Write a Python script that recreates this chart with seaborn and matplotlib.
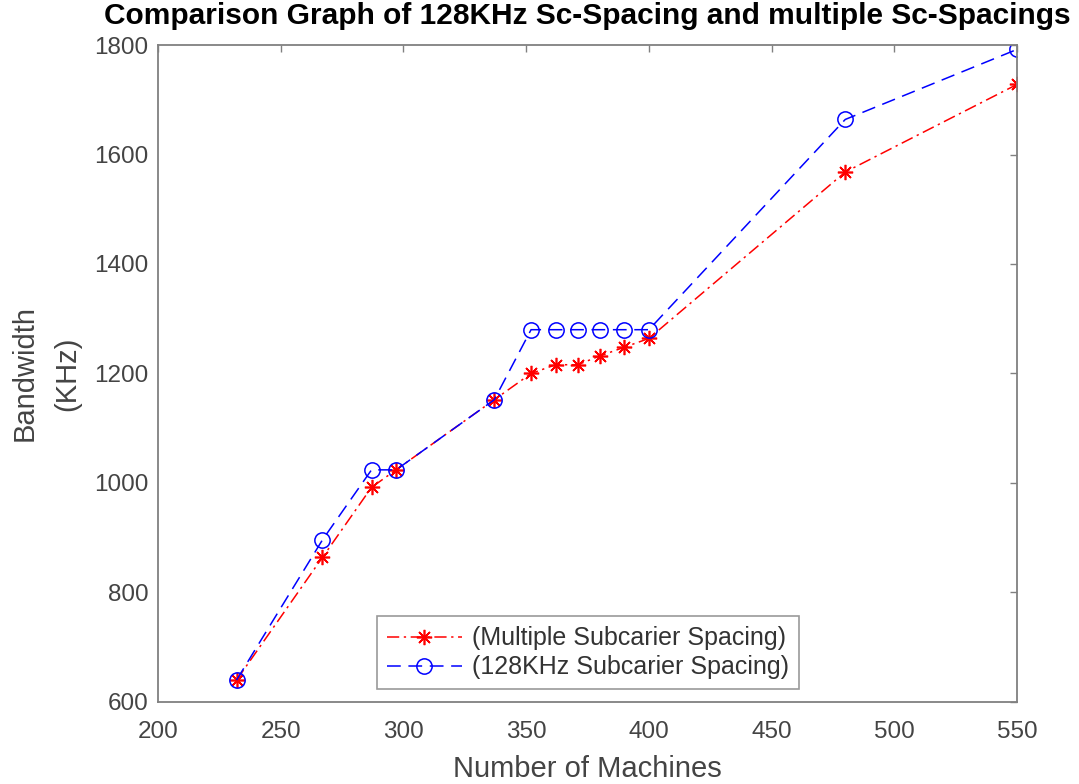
import pandas as pd
import matplotlib
matplotlib.use("Agg")
import matplotlib.pyplot as plt
import seaborn as sns

# values
machines = [232, 267, 287, 297, 337, 352, 362, 371, 380, 390, 400, 480, 550]
bw_multiple = [640, 864, 992, 1024, 1152, 1200, 1216, 1216, 1232, 1248, 1264, 1568, 1728]
bw_128k = [640, 896, 1024, 1024, 1152, 1280, 1280, 1280, 1280, 1280, 1280, 1664, 1792]
label_multiple = "(Multiple Subcarier Spacing)"
label_128k = "(128KHz Subcarier Spacing)"
x_ticks = [200, 250, 300, 350, 400, 450, 500, 550]
y_ticks = [600, 800, 1000, 1200, 1400, 1600, 1800]

df = pd.DataFrame({"machines": machines, "multiple": bw_multiple, "k128": bw_128k})

sns.set_theme(style="white")
plt.rcParams["font.family"] = ["Liberation Sans", "DejaVu Sans"]

fig = plt.figure(figsize=(10.79, 7.84), dpi=100)
ax = fig.add_axes([0.1464, 0.1046, 0.7962, 0.838])

sns.lineplot(data=df, x="machines", y="multiple", ax=ax, color="red",
             linestyle=(0, (8, 3, 1.5, 3)), linewidth=1.1,
             marker=(8, 2, 0), markersize=11, markeredgecolor="red",
             markeredgewidth=1.2, label=label_multiple)
sns.lineplot(data=df, x="machines", y="k128", ax=ax, color="blue",
             linestyle=(0, (9, 5)), linewidth=1.1,
             marker="o", markersize=11, markerfacecolor="none",
             markeredgecolor="blue", markeredgewidth=1.1, label=label_128k)

ax.set_xlim(200, 550)
ax.set_ylim(600, 1800)
ax.set_xticks(x_ticks)
ax.set_yticks(y_ticks)

grey = "#808080"
for sp in ax.spines.values():
    sp.set_color(grey)
    sp.set_linewidth(1.3)
ax.tick_params(axis="both", direction="in", length=5, width=1, color=grey,
               labelcolor="#444444", labelsize=17.5, top=True, right=True)
ax.tick_params(axis="x", pad=14)
ax.tick_params(axis="y", pad=7)

ax.set_title("Comparison Graph of 128KHz Sc-Spacing and multiple Sc-Spacings",
             fontsize=21.5, fontweight="bold", color="black", pad=15)
ax.set_xlabel("Number of Machines", fontsize=21, color="#444444", labelpad=8)
ax.set_ylabel("Bandwidth\n(KHz)", fontsize=21, color="#444444", labelpad=9,
              linespacing=1.65)

leg = ax.legend(loc="lower center", fontsize=18, frameon=True, fancybox=False,
                handlelength=3.0, labelspacing=0.2, borderaxespad=0.5,
                borderpad=0.4, handletextpad=0.4)
leg.get_frame().set_edgecolor(grey)
leg.get_frame().set_linewidth(1.2)
for t in leg.get_texts():
    t.set_color("#333333")

fig.savefig("out.png", dpi=100)
